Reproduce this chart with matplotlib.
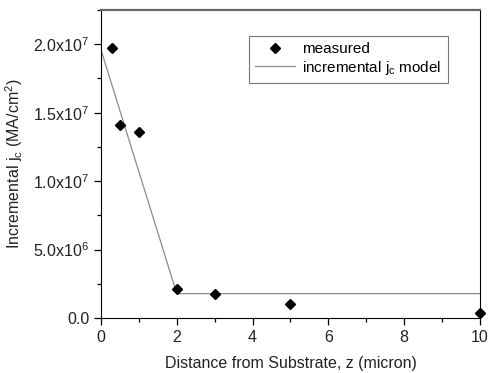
import numpy as np
import matplotlib
matplotlib.use('Agg')
import matplotlib.pyplot as plt
from matplotlib.ticker import MultipleLocator, FuncFormatter

plt.rcParams['font.family'] = ['Liberation Sans', 'DejaVu Sans']
plt.rcParams['mathtext.default'] = 'regular'

# measured points
z_meas = [0.3, 0.5, 1.0, 2.0, 3.0, 5.0, 10.0]
jc_meas = [1.97e7, 1.41e7, 1.36e7, 2.1e6, 1.78e6, 1.0e6, 3.5e5]

# model (piecewise linear)
z_model = [0.0, 2.0, 10.0]
jc_model = [1.96e7, 1.78e6, 1.78e6]


def sci_fmt(v, pos):
    if v == 0:
        return '0.0'
    e = int(np.floor(np.log10(abs(v))))
    m = v / 10**e
    return '%.1fx10$^{%d}$' % (m, e)


fig = plt.figure(figsize=(4.89, 3.73), dpi=100)
ax = fig.add_axes([0.2065, 0.1475, 0.775, 0.8255])

ax.plot(z_model, jc_model, '-', color='#8c8c8c', lw=0.9, label='incremental j$_c$ model', zorder=2)
ax.plot(z_meas, jc_meas, 'D', color='black', ms=5.5, ls='none', label='measured', zorder=3, clip_on=False)

ax.set_xlim(0, 10)
ax.set_ylim(0, 2.25e7)
ax.xaxis.set_major_locator(MultipleLocator(2))
ax.xaxis.set_minor_locator(MultipleLocator(1))
ax.yaxis.set_major_locator(MultipleLocator(5e6))
ax.yaxis.set_minor_locator(MultipleLocator(2.5e6))
ax.yaxis.set_major_formatter(FuncFormatter(sci_fmt))
ax.xaxis.set_major_formatter(FuncFormatter(lambda v, p: '%d' % v))

ax.tick_params(which='both', direction='out', top=False, right=False, labelsize=11.5, colors='black')
ax.tick_params(which='major', length=5, width=0.9)
ax.tick_params(which='minor', length=3, width=0.9)
ax.tick_params(axis='x', labelcolor='#222222')
ax.tick_params(axis='y', labelcolor='#222222')

ax.spines['left'].set_color('black')
ax.spines['bottom'].set_color('black')
ax.spines['top'].set_color('#666666')
ax.spines['top'].set_linewidth(1.6)
ax.spines['right'].set_color('black')
ax.spines['right'].set_linewidth(0.8)

ax.set_xlabel('Distance from Substrate, z (micron)', fontsize=11.5, labelpad=8, color='#222222')
ax.set_ylabel('Incremental j$_c$ (MA/cm$^2$)', fontsize=11.5, labelpad=6, color='#222222')

handles, labels = ax.get_legend_handles_labels()
leg = ax.legend(handles[::-1], labels[::-1], loc='upper left', bbox_to_anchor=(0.37, 0.94),
                frameon=True, fancybox=False, edgecolor='#555555', fontsize=11,
                handlelength=2.6, borderpad=0.4, labelspacing=0.15, handletextpad=0.5)
leg.get_frame().set_linewidth(0.8)

fig.savefig('out.png', dpi=100)
